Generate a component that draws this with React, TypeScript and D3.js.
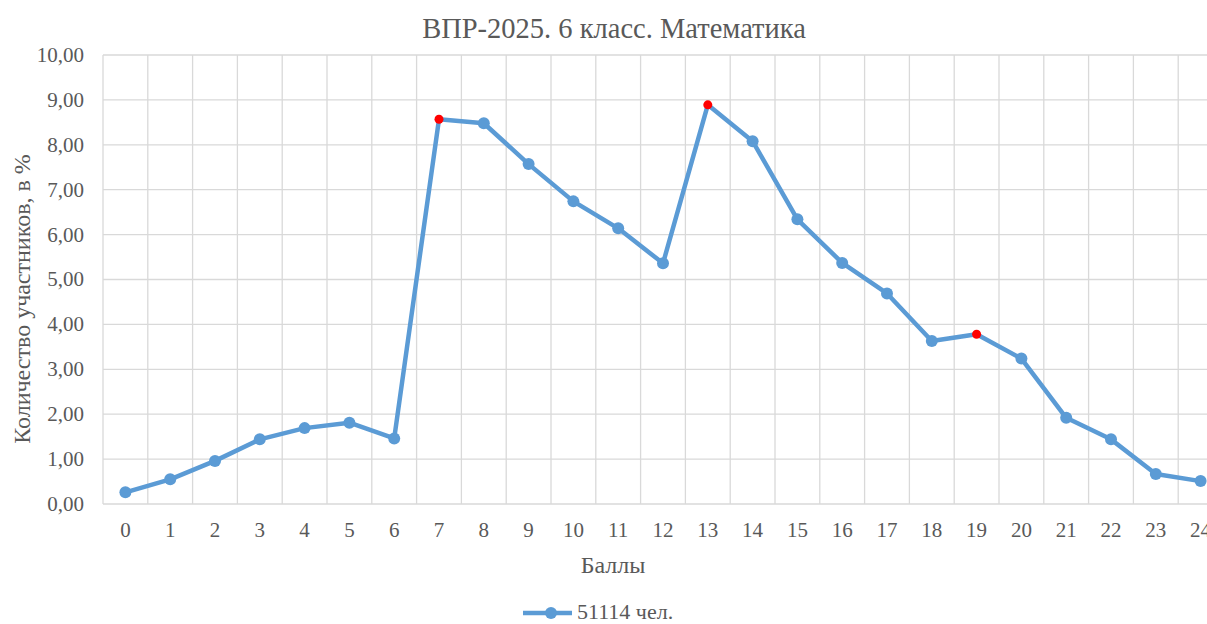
import React from "react";
import * as d3 from "d3";

const categories: string[] = ["0","1","2","3","4","5","6","7","8","9","10","11","12","13","14","15","16","17","18","19","20","21","22","23","24"];
const values: number[] = [0.26,0.55,0.96,1.44,1.69,1.81,1.46,8.57,8.48,7.57,6.74,6.14,5.36,8.89,8.08,6.34,5.37,4.69,3.63,3.78,3.24,1.92,1.44,0.67,0.51];
const highlighted: string[] = ["7","13","19"];
const yTicks: number[] = [0,1,2,3,4,5,6,7,8,9,10];
const title = "ВПР-2025. 6 класс. Математика";
const yTitle = "Количество участников, в %";
const xTitle = "Баллы";
const seriesName = "51114 чел.";

const W = 1207, H = 624;
const left = 103, top = 55, bottom = 504;
const bandW = 44.8;

export default function App() {
  const x = d3.scaleBand<string>().domain(categories).range([left, left + bandW * categories.length]).padding(0);
  const y = d3.scaleLinear().domain([0, 10]).range([bottom, top]);
  const cx = (c: string) => (x(c) as number) + x.bandwidth() / 2;
  const line = d3.line<number>().x((_, i) => cx(categories[i])).y((d) => y(d));
  const font = "'Liberation Serif', 'Times New Roman', serif";
  const textColor = "#595959";
  const grid = "#d9d9d9";
  const blue = "#5B9BD5";
  const right = left + bandW * categories.length;
  const boundaries = d3.range(categories.length + 1).map((i) => left + i * bandW);
  return (
    <div style={{ position: "fixed", left: 0, top: 0 }}>
      <svg width={W} height={H} style={{ display: "block", background: "#fff" }} fontFamily={font}>
        <rect x={0} y={0} width={W} height={H} fill="#fff" />
        <text x={614} y={38} textAnchor="middle" fontSize={28.5} fill={textColor}>{title}</text>
        {yTicks.map((t) => (
          <line key={"h" + t} x1={left} x2={right} y1={y(t)} y2={y(t)} stroke={grid} strokeWidth={1.3} />
        ))}
        {boundaries.map((b, i) => (
          <line key={"v" + i} x1={b} x2={b} y1={top} y2={bottom} stroke={grid} strokeWidth={1.3} />
        ))}
        {yTicks.map((t) => (
          <text key={"yl" + t} x={84} y={y(t)} dy="0.33em" textAnchor="end" fontSize={21} fill={textColor}>
            {d3.format(".2f")(t).replace(".", ",")}
          </text>
        ))}
        {categories.map((c) => (
          <text key={"xl" + c} x={cx(c)} y={537} textAnchor="middle" fontSize={21} fill={textColor}>{c}</text>
        ))}
        <text transform={`translate(30,299) rotate(-90)`} textAnchor="middle" fontSize={24} fill={textColor}>{yTitle}</text>
        <text x={613} y={573} textAnchor="middle" fontSize={24} fill={textColor}>{xTitle}</text>
        <path d={line(values) || ""} fill="none" stroke={blue} strokeWidth={4.5} strokeLinejoin="round" />
        {values.map((v, i) => (
          <circle key={"p" + i} cx={cx(categories[i])} cy={y(v)} r={highlighted.includes(categories[i]) ? 4.5 : 6}
            fill={highlighted.includes(categories[i]) ? "#ff0000" : blue} />
        ))}
        <line x1={523} x2={572} y1={613} y2={613} stroke={blue} strokeWidth={4.5} />
        <circle cx={551} cy={613} r={6} fill={blue} />
        <text x={577} y={619} fontSize={22} fill={textColor}>{seriesName}</text>
      </svg>
    </div>
  );
}
